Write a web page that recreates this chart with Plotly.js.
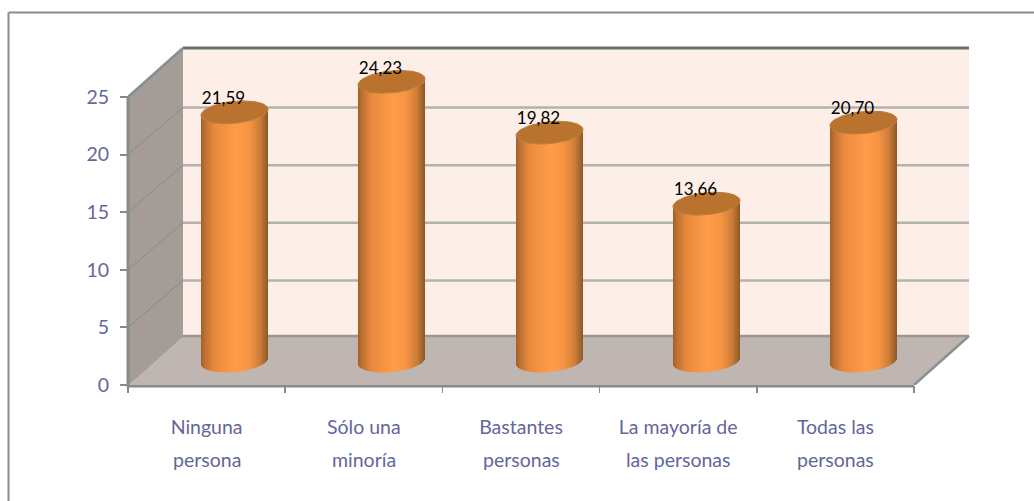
<!DOCTYPE html>
<html><head><meta charset="utf-8"><script src="https://cdn.plot.ly/plotly-3.0.1.min.js"></script>
<style>html,body{margin:0;padding:0;background:#fff;overflow:hidden}</style></head>
<body><div id="chart" style="width:1034px;height:501px"></div>
<script>
const categoriesLine1 = ['Ninguna','Sólo una','Bastantes','La mayoría de','Todas las'];
const categoriesLine2 = ['persona','minoría','personas','las personas','personas'];
const values = [21.59,24.23,19.82,13.66,20.70];
const yTicks = [0,5,10,15,20,25];

const W=1034,H=501,pxX=157.2,pxY=11.52,x0=128,y0=385;
const xr=[0,(976-x0)/pxX], yr=[0,(y0-40)/pxY];
const dx=55/pxX, dy=49/pxY;
const nCat=values.length;
const centers=values.map((v,i)=>i+0.5);
// cylinder centre snapped to a half pixel so the 1px strips sit on whole pixels
const cylC=centers.map(c=>(Math.round(c*pxX+27.5)+0.5)/pxX);
const cy=24/pxY;
const a=33.5, b=11, tilt=0.09;
const stops=[[0,[160,96,42]],[.06,[190,112,50]],[.2,[232,138,62]],[.52,[255,156,72]],[.72,[246,148,68]],[.88,[205,125,56]],[1,[140,88,40]]];
function col(t){for(let i=1;i<stops.length;i++){if(t<=stops[i][0]){const [p,c]=stops[i-1],[q,d]=stops[i];const f=(t-p)/(q-p);
  return 'rgb('+c.map((u,k)=>Math.round(u+(d[k]-u)*f)).join(',')+')';}}return 'rgb(140,88,40)';}
const traces=[];
const n=67;
for(let s=0;s<n;s++){
  const off=-33+s;
  const lower=(tilt*off-b*Math.sqrt(Math.max(0,1-off*off/(a*a))))/pxY;
  traces.push({type:'bar',x:cylC.map(c=>c+off/pxX),y:values,base:values.map(()=>cy+lower),
    width:1.04/pxX,marker:{color:col((s+.5)/n),opacity:1,line:{width:0}},hoverinfo:'skip',showlegend:false});
}
values.forEach((v,i)=>{
  const xs=[],ys=[];
  for(let k=0;k<=72;k++){const t=k/72*2*Math.PI;const o=a*Math.cos(t);
    xs.push(cylC[i]+o/pxX);ys.push(v+cy+(tilt*o+b*Math.sin(t))/pxY);}
  traces.push({type:'scatter',mode:'lines',x:xs,y:ys,fill:'toself',fillcolor:'#B9732F',line:{width:1,color:'#BC7A38'},hoverinfo:'skip',showlegend:false});
});
traces.push({type:'scatter',mode:'text',x:cylC.map(c=>c-11/pxX),y:values.map(v=>v+cy+12.5/pxY),
  text:values.map(v=>v.toFixed(2).replace('.',',')),textposition:'middle center',
  textfont:{family:'Lato',size:17,color:'#000'},hoverinfo:'skip',showlegend:false});

const poly=(pts,fill)=>({type:'path',xref:'x',yref:'y',layer:'below',fillcolor:fill,line:{width:0},
  path:'M'+pts.map(p=>p.join(',')).join('L')+'Z'});
const seg=(x1,y1,x2,y2,color,width)=>({type:'line',xref:'x',yref:'y',layer:'below',x0:x1,y0:y1,x1:x2,y1:y2,line:{color,width}});
const yMax=yTicks[yTicks.length-1], xEnd=nCat, gridShift=2/pxY;
const shapes=[
  poly([[dx,dy],[xEnd+dx,dy],[xEnd+dx,yMax+dy],[dx,yMax+dy]],'#FDEFE8'),
  poly([[0,0],[dx,dy],[dx,yMax+dy],[0,yMax]],'#A39C97'),
  poly([[0,0],[xEnd,0],[xEnd+dx,dy],[dx,dy]],'#BFB5B1'),
];
yTicks.slice(1,-1).forEach(t=>{
  shapes.push(seg(dx,t+dy-gridShift,xEnd+dx,t+dy-gridShift,'#B2B3B0',2.5));
  shapes.push(seg(0,t,dx,t+dy-gridShift,'#8B8986',1));
});
shapes.push(seg(dx,dy,xEnd+dx,dy,'#9A9793',2.5));
shapes.push(seg(dx,yMax+dy,xEnd+dx,yMax+dy,'#69716F',3));
shapes.push(seg(0,yMax,dx,yMax+dy,'#87908F',2.5));
shapes.push(seg(xEnd,0,xEnd+dx,dy,'#8B9190',2.5));
shapes.push(seg(0,0,dx,dy,'#9A9793',1));
shapes.push({type:'line',xref:'x',yref:'paper',layer:'below',x0:0,x1:xEnd,y0:1-(y0+1)/H,y1:1-(y0+1)/H,line:{color:'#868C8B',width:3}});
// frame: only the top and left edges are visible
shapes.push({type:'line',xref:'paper',yref:'paper',layer:'below',x0:8.5/W,x1:1,y0:1-12.5/H,y1:1-12.5/H,line:{color:'#8C8C8C',width:2}});
shapes.push({type:'line',xref:'paper',yref:'paper',layer:'below',x0:8.5/W,x1:8.5/W,y0:0,y1:1-12.5/H,line:{color:'#8C8C8C',width:2}});
shapes.push({type:'line',xref:'paper',yref:'paper',layer:'above',x0:x0/W,x1:x0/W,y0:1-(y0+2)/H,y1:1-96/H,line:{color:'#868C8B',width:3}});

const txt={family:'Lato',size:19.5,color:'#64669C'};
const layout={width:W,height:H,margin:{l:0,r:0,t:0,b:0},paper_bgcolor:'#fff',plot_bgcolor:'rgba(0,0,0,0)',
  barmode:'overlay',showlegend:false,
  xaxis:{domain:[x0/W,976/W],range:xr,fixedrange:true,showgrid:false,zeroline:false,showline:false,
    tickmode:'array',tickvals:centers,ticktext:categoriesLine1,ticks:'',ticklabelstandoff:28,tickfont:txt,
    minor:{tickmode:'array',tickvals:Array.from({length:nCat+1},(_,i)=>i),ticks:'outside',ticklen:7,tickwidth:1.5,tickcolor:'#868C8B',showgrid:false}},
  yaxis:{domain:[1-y0/H,1-40/H],range:yr,fixedrange:true,showgrid:false,zeroline:false,showline:false,
    tickmode:'array',tickvals:yTicks,ticks:'outside',ticklen:7,tickwidth:2,tickcolor:'#868C8B',tickfont:txt,ticklabelstandoff:7},
  shapes,
  annotations:categoriesLine2.map((t,i)=>({xref:'x',yref:'paper',x:centers[i],y:1-459/H,text:t,showarrow:false,font:txt,xanchor:'center',yanchor:'middle'}))
};
Plotly.newPlot('chart',traces,layout,{displayModeBar:false,staticPlot:true});
</script></body></html>
